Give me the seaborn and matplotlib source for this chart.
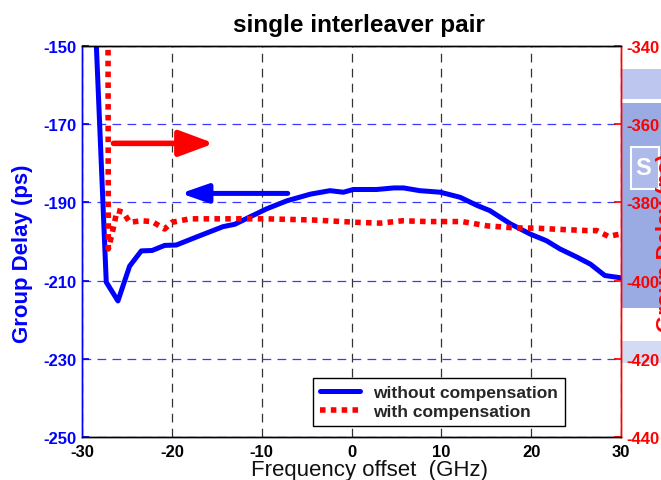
import numpy as np
import pandas as pd
import matplotlib
matplotlib.use("Agg")
import matplotlib.pyplot as plt
from matplotlib.patches import Rectangle
import seaborn as sns

# Group delay without compensation (left axis, ps)
freq_without = [-28.4, -27.3, -26.0, -24.7, -23.4, -22.2, -20.8, -19.5, -17.2, -14.3,
                -13.0, -11.3, -9.4, -7.2, -4.6, -2.4, -0.9, 0.2, 2.8, 4.7, 5.8, 7.6,
                9.9, 12.1, 14.0, 15.4, 17.7, 19.9, 21.7, 23.2, 25.1, 26.6, 28.2, 30.0]
delay_without = [-150.0, -210.4, -215.2, -206.3, -202.4, -202.3, -201.0, -200.9, -198.8, -196.2,
                 -195.6, -193.7, -191.6, -189.6, -187.9, -187.0, -187.4, -186.7, -186.7, -186.3, -186.3, -187.0,
                 -187.4, -188.7, -190.8, -192.1, -195.5, -198.1, -199.8, -201.9, -204.0, -205.8, -208.7, -209.3]

# Group delay with compensation (right axis, ps)
freq_with = [-27.1, -27.07, -26.7, -26.1, -25.4, -24.7, -23.4, -22.2, -20.8, -20.0, -18.0,
             -14.3, -9.5, -4.3, 0.6, 3.2, 5.7, 8.4, 12.3, 15.1, 18.0, 20.6, 23.2, 26.2,
             27.3, 28.6, 29.9]
delay_with = [-341.0, -391.9, -388.5, -382.1, -382.5, -385.1, -384.7, -384.9, -386.8, -385.1, -384.2,
              -384.2, -384.2, -384.5, -385.1, -385.3, -384.7, -384.9, -384.9, -386.0, -386.5, -386.6, -386.9, -387.2,
              -387.2, -388.7, -388.1]

x_ticks = [-30, -20, -10, 0, 10, 20, 30]
left_ticks = [-250, -230, -210, -190, -170, -150]
right_ticks = [-440, -420, -400, -380, -360, -340]
labels = ["without compensation", "with compensation"]

sns.set_theme(style="white")
plt.rcParams["font.family"] = ["Liberation Sans", "DejaVu Sans"]
plt.rcParams["axes.unicode_minus"] = False

BLUE = "#0000ff"
RED = "#ff0000"

fig = plt.figure(figsize=(6.61, 4.81), dpi=100)
fig.patch.set_facecolor("white")

# faint logo stamp at the right edge
for (x0, y0, w, h, c) in [(622, 70, 39, 30, "#bcc6ee"),
                          (622, 104, 39, 205, "#9aabe3"),
                          (622, 342, 39, 22, "#d3daf3")]:
    fig.patches.append(Rectangle((x0 / 661, 1 - (y0 + h) / 481), w / 661, h / 481,
                                 transform=fig.transFigure, facecolor=c,
                                 edgecolor="none", zorder=-1))
fig.patches.append(Rectangle((631 / 661, 1 - 190 / 481), 28 / 661, 42 / 481,
                             transform=fig.transFigure, facecolor="#aebbea",
                             edgecolor="white", lw=1.5, zorder=-1))
fig.text(643 / 661, 1 - 169 / 481, "S", color="white", fontsize=17,
         fontweight="bold", ha="center", va="center", zorder=-1)

ax = fig.add_axes([82 / 661, 43 / 481, 539 / 661, 391 / 481])
ax.patch.set_alpha(0)
ax2 = ax.twinx()

df_without = pd.DataFrame({"freq": freq_without, "delay": delay_without})
df_with = pd.DataFrame({"freq": freq_with, "delay": delay_with})

sns.lineplot(data=df_without, x="freq", y="delay", ax=ax, color=BLUE, lw=3.6,
             sort=False, estimator=None, label=labels[0], legend=False)
sns.lineplot(data=df_with, x="freq", y="delay", ax=ax2, color=RED, lw=4.0,
             sort=False, estimator=None, label=labels[1], legend=False,
             linestyle=(0, (1, 0.95)))
ax2.lines[0].set_dash_capstyle("butt")

ax.set_xlim(-30, 30)
ax.set_ylim(-250, -150)
ax2.set_ylim(-440, -340)
ax.set_xticks(x_ticks)
ax.set_yticks(left_ticks)
ax2.set_yticks(right_ticks)

# grid: blue dashed horizontal, dark dashed vertical
ax.set_axisbelow(True)
ax.yaxis.grid(True, color="#3a3aff", linestyle=(0, (7, 5)), lw=0.9)
ax.xaxis.grid(True, color="#333333", linestyle=(0, (7, 5)), lw=0.9)
ax2.grid(False)

tick_font = dict(labelsize=12)
ax.tick_params(axis="x", colors="black", direction="in", length=5, pad=5, **tick_font)
ax.tick_params(axis="y", colors=BLUE, direction="in", length=5, pad=4, **tick_font)
ax2.tick_params(axis="y", colors=RED, direction="in", length=5, pad=4, **tick_font)
for lab in ax.get_xticklabels() + ax.get_yticklabels() + ax2.get_yticklabels():
    lab.set_fontweight("bold")

for a in (ax, ax2):
    a.spines["top"].set_color("black")
    a.spines["bottom"].set_color("black")
    a.spines["left"].set_color(BLUE)
    a.spines["right"].set_color(RED)
    for s in a.spines.values():
        s.set_linewidth(1.0)
        s.set_visible(True)

ax.set_xlabel("Frequency offset  (GHz)", fontsize=16, fontweight="normal", color="#111111")
ax.xaxis.set_label_coords(0.534, -0.056)
ax.set_ylabel("Group Delay (ps)", fontsize=16, fontweight="bold", color=BLUE)
ax.yaxis.set_label_coords(-0.09, 0.47)
ax2.set_ylabel("")
fig.text(656 / 661, 1 - 243 / 481, "Group Delay (ps)", rotation=90, color=RED,
         fontsize=16, fontweight="bold", ha="left", va="center")

ax.set_title("single interleaver pair", fontsize=17.5, fontweight="bold", color="black",
             pad=11, x=0.514)

# direction arrows pointing at each curve's axis
ax2.annotate("", xy=(-15.3, -364.9), xytext=(-26.5, -364.9),
             arrowprops=dict(arrowstyle="-|>,head_length=1.75,head_width=0.65",
                             color=RED, lw=4, shrinkA=0, shrinkB=0))
ax2.annotate("", xy=(-19.0, -377.7), xytext=(-7.1, -377.7),
             arrowprops=dict(arrowstyle="-|>,head_length=1.35,head_width=0.47",
                             color=BLUE, lw=3.6, shrinkA=0, shrinkB=0))

handles = ax.get_lines()[:1] + ax2.get_lines()[:1]
leg = ax2.legend(handles, labels, loc="lower right", bbox_to_anchor=(0.896, 0.028),
                 borderaxespad=0, fancybox=False, framealpha=1, edgecolor="black",
                 prop=dict(size=12.5, weight="bold"), handlelength=2.3,
                 handletextpad=0.75, labelspacing=0.25, borderpad=0.4)
leg.get_frame().set_linewidth(1.0)

fig.savefig("out.png", dpi=100)
